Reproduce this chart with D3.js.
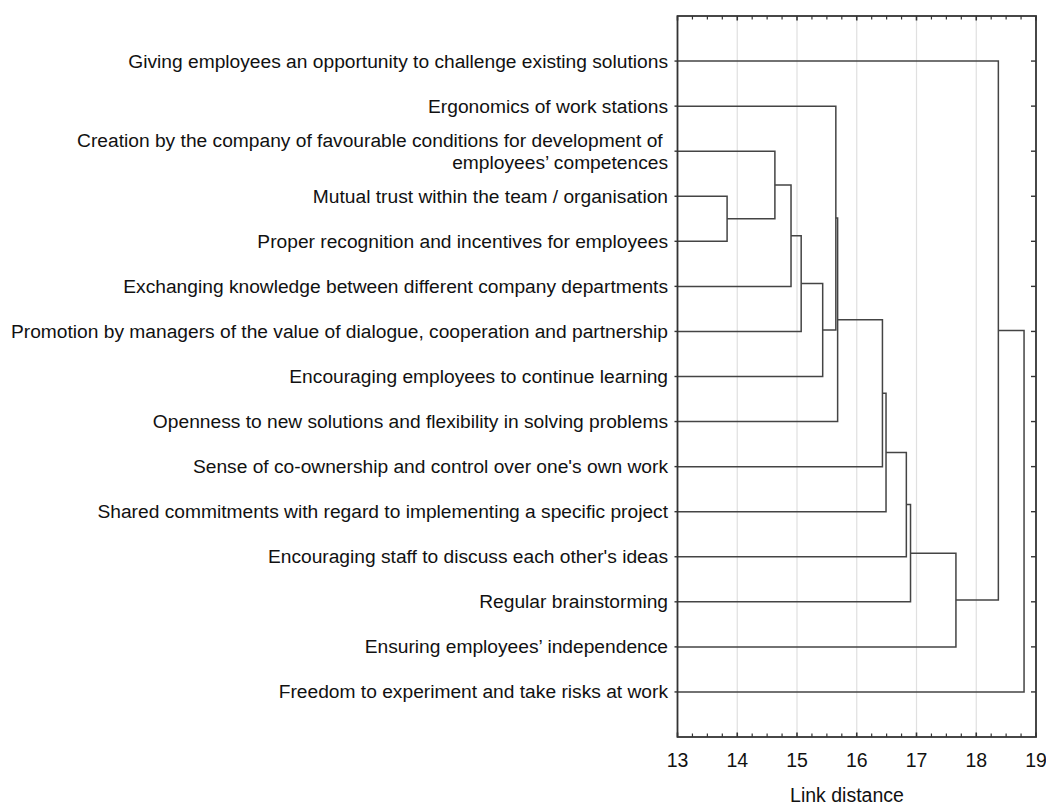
<!DOCTYPE html>
<html>
<head>
<meta charset="utf-8">
<script src="https://cdn.jsdelivr.net/npm/d3@7"></script>
<style>
  html, body { margin: 0; padding: 0; background: #fff; }
  svg { display: block; font-family: "Liberation Sans", Arial, sans-serif; }
</style>
</head>
<body>
<svg id="chart" width="1046" height="805"></svg>
<script>
// Tree diagram (single linkage style), leaves top → bottom as printed.
const leafLabels = [
  "Giving employees an opportunity to challenge existing solutions",
  "Ergonomics of work stations",
  "Creation by the company of favourable conditions for development of \nemployees’ competences",
  "Mutual trust within the team / organisation",
  "Proper recognition and incentives for employees",
  "Exchanging knowledge between different company departments",
  "Promotion by managers of the value of dialogue, cooperation and partnership",
  "Encouraging employees to continue learning",
  "Openness to new solutions and flexibility in solving problems",
  "Sense of co-ownership and control over one's own work",
  "Shared commitments with regard to implementing a specific project",
  "Encouraging staff to discuss each other's ideas",
  "Regular brainstorming",
  "Ensuring employees’ independence",
  "Freedom to experiment and take risks at work"
];

// Merge steps: node ids 0..14 are leaves, each merge creates id 15, 16, ...
const mergeLeft  = [3, 2, 16, 17, 18, 1, 20, 21, 22, 23, 24, 25, 0, 27];
const mergeRight = [4, 15, 5, 6, 7, 19, 8, 9, 10, 11, 12, 13, 26, 14];
const mergeDist  = [13.83, 14.63, 14.90, 15.07, 15.43, 15.65, 15.68, 16.43, 16.49, 16.83, 16.90, 17.66, 18.37, 18.80];

const xTicks = [13, 14, 15, 16, 17, 18, 19];
const xTitle = "Link distance";

const plot = { left: 677.5, right: 1036, top: 16, bottom: 737 };

const svg = d3.select("#chart");

const x = d3.scaleLinear().domain([13, 19]).range([plot.left, plot.right]);
const y = d3.scalePoint().domain(d3.range(leafLabels.length)).range([plot.top, plot.bottom]).padding(1);

// gridlines
svg.append("g")
  .selectAll("line")
  .data(xTicks.slice(1, -1))
  .join("line")
    .attr("x1", d => x(d)).attr("x2", d => x(d))
    .attr("y1", plot.top).attr("y2", plot.bottom)
    .attr("stroke", "#e0e0e0")
    .attr("stroke-width", 1.2);

// node positions
const nodes = leafLabels.map((label, i) => ({ id: i, h: 13, y: y(i) }));
mergeDist.forEach((h, i) => {
  const a = nodes[mergeLeft[i]], b = nodes[mergeRight[i]];
  nodes.push({ id: nodes.length, h, y: (a.y + b.y) / 2, a, b });
});

const merges = nodes.filter(n => n.a);
svg.append("g")
  .selectAll("path")
  .data(merges)
  .join("path")
    .attr("d", n => {
      const p = d3.path();
      p.moveTo(x(n.a.h), n.a.y);
      p.lineTo(x(n.h), n.a.y);
      p.lineTo(x(n.h), n.b.y);
      p.lineTo(x(n.b.h), n.b.y);
      return p.toString();
    })
    .attr("fill", "none")
    .attr("stroke", "#444")
    .attr("stroke-width", 1.5);

// bottom axis (ticks inward) and mirrored top axis
const minor = d3.range(13, 19.001, 0.25);
const frame = svg.append("g").attr("stroke", "#333");
frame.append("rect")
  .attr("x", plot.left).attr("y", plot.top)
  .attr("width", plot.right - plot.left).attr("height", plot.bottom - plot.top)
  .attr("fill", "none").attr("stroke-width", 1.8);

[plot.bottom, plot.top].forEach((yy, k) => {
  const dir = k === 0 ? -1 : 1;
  frame.append("g")
    .selectAll("line")
    .data(minor)
    .join("line")
      .attr("x1", d => x(d)).attr("x2", d => x(d))
      .attr("y1", yy)
      .attr("y2", d => yy + dir * (Number.isInteger(d) ? 4.5 : 3.5))
      .attr("stroke-width", d => Number.isInteger(d) ? 1.6 : 1.2);
});

// row ticks: right inward, left outward
frame.append("g")
  .selectAll("line")
  .data(d3.range(leafLabels.length))
  .join("line")
    .attr("x1", plot.right - 5).attr("x2", plot.right)
    .attr("y1", d => y(d)).attr("y2", d => y(d))
    .attr("stroke-width", 1.4);
frame.append("g")
  .selectAll("line")
  .data(d3.range(leafLabels.length))
  .join("line")
    .attr("x1", plot.left - 3).attr("x2", plot.left)
    .attr("y1", d => y(d)).attr("y2", d => y(d))
    .attr("stroke-width", 1.4);

// tick labels
svg.append("g")
  .selectAll("text")
  .data(xTicks)
  .join("text")
    .attr("x", d => x(d))
    .attr("y", 767)
    .attr("text-anchor", "middle")
    .attr("font-size", 19.5)
    .attr("fill", "#111")
    .text(d => d);

svg.append("text")
  .attr("x", 847)
  .attr("y", 802)
  .attr("text-anchor", "middle")
  .attr("font-size", 19.5)
  .attr("fill", "#111")
  .text(xTitle);

// leaf labels
const labelG = svg.append("g")
  .attr("font-size", 19.2)
  .attr("fill", "#111")
  .attr("text-anchor", "end");

labelG.selectAll("text")
  .data(leafLabels)
  .join("text")
    .attr("x", 668)
    .attr("y", (d, i) => y(i))
    .each(function (d, i) {
      const lines = d.split("\n");
      const t = d3.select(this);
      const lh = 22;
      lines.forEach((line, j) => {
        t.append("tspan")
          .attr("x", 668)
          .attr("dy", j === 0 ? (6.5 - (lines.length - 1) * lh / 2) : lh)
          .text(line);
      });
    });
</script>
</body>
</html>
